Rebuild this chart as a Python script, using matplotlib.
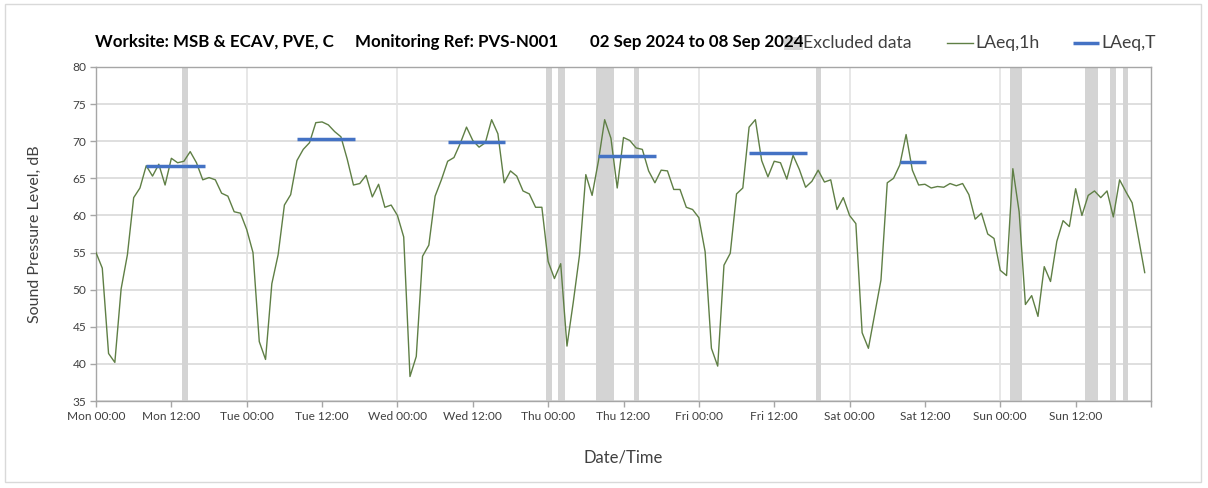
import matplotlib
matplotlib.use("Agg")
import matplotlib.pyplot as plt
from matplotlib.patches import Rectangle
from matplotlib.lines import Line2D
import numpy as np

# ---- data ----
laeq_1h = [
    # Mon
    55.0, 52.9, 41.4, 40.2, 50.1, 54.7, 62.4, 63.7, 66.7, 65.3, 66.9, 64.1,
    67.7, 67.1, 67.3, 68.6, 67.1, 64.8, 65.1, 64.8, 63.0, 62.6, 60.5, 60.3,
    # Tue
    58.1, 55.0, 43.0, 40.6, 50.8, 54.7, 61.4, 62.8, 67.4, 68.9, 69.8, 72.5,
    72.6, 72.2, 71.3, 70.6, 67.6, 64.1, 64.3, 65.4, 62.5, 64.2, 61.1, 61.4,
    # Wed
    60.0, 57.1, 38.3, 41.0, 54.5, 56.0, 62.6, 64.8, 67.3, 67.8, 69.7, 71.9,
    70.1, 69.2, 69.8, 72.9, 71.0, 64.4, 66.0, 65.3, 63.3, 62.9, 61.1, 61.1,
    # Thu
    53.8, 51.5, 53.5, 42.4, 48.3, 54.7, 65.5, 62.7, 67.3, 72.9, 70.4, 63.7,
    70.5, 70.1, 69.1, 68.9, 66.0, 64.4, 66.1, 66.0, 63.5, 63.5, 61.1, 60.8,
    # Fri
    59.7, 55.1, 42.1, 39.7, 53.3, 54.9, 62.9, 63.7, 71.9, 72.9, 67.4, 65.2,
    67.3, 67.1, 64.9, 68.1, 66.2, 63.8, 64.6, 66.1, 64.5, 64.8, 60.8, 62.4,
    # Sat
    60.0, 58.9, 44.2, 42.1, 46.7, 51.3, 64.4, 65.0, 66.8, 70.9, 66.1, 64.1,
    64.2, 63.7, 63.9, 63.8, 64.3, 64.0, 64.3, 62.8, 59.5, 60.3, 57.5, 56.9,
    # Sun
    52.6, 51.9, 66.3, 60.5, 48.0, 49.2, 46.4, 53.1, 51.1, 56.5, 59.3, 58.5,
    63.6, 60.0, 62.7, 63.3, 62.4, 63.3, 59.8, 64.8, 63.2, 61.7, 57.0, 52.3,
]
hours = list(range(len(laeq_1h)))

laeqT_start = [8.0, 32.0, 56.0, 80.0, 104.0, 128.0]
laeqT_end = [17.3, 41.3, 65.2, 89.2, 113.2, 132.2]
laeqT_value = [66.7, 70.3, 69.9, 68.0, 68.4, 67.2]

excl_start = [13.7, 71.6, 73.6, 79.6, 85.6, 114.6, 145.5, 157.5, 161.5, 163.5]
excl_end = [14.6, 72.6, 74.7, 82.5, 86.5, 115.5, 147.4, 159.5, 162.5, 164.4]

tick_hours = list(range(0, 168, 12))
tick_labels = ["Mon 00:00", "Mon 12:00", "Tue 00:00", "Tue 12:00", "Wed 00:00",
               "Wed 12:00", "Thu 00:00", "Thu 12:00", "Fri 00:00", "Fri 12:00",
               "Sat 00:00", "Sat 12:00", "Sun 00:00", "Sun 12:00"]
y_ticks = [35, 40, 45, 50, 55, 60, 65, 70, 75, 80]

title_parts = ["Worksite: MSB & ECAV, PVE, C", "Monitoring Ref: PVS-N001",
               "02 Sep 2024 to 08 Sep 2024"]
legend_labels = ["Excluded data", "LAeq,1h", "LAeq,T"]

# ---- style ----
FONT = ["Lato", "DejaVu Sans"]
plt.rcParams["font.family"] = FONT
GREEN = "#5f7f45"
BLUE = "#4472C4"
GREY_BAR = "#d4d4d4"
GRID = "#d9d9d9"
TXT = "#404040"

W, H = 1208, 488
fig = plt.figure(figsize=(W / 100, H / 100), dpi=100)
ax = fig.add_axes([96 / W, 1 - 401 / H, (1151 - 96) / W, (401 - 67) / H])

# border around whole chart
fig.patches.append(Rectangle((5 / W, 6 / H), (1201 - 5) / W, (484 - 6) / H,
                             transform=fig.transFigure, fill=False,
                             edgecolor="#d9d9d9", linewidth=1))

# excluded data bars
for s, e in zip(excl_start, excl_end):
    ax.axvspan(s, e, color=GREY_BAR, lw=0, zorder=1)

# grid
for y in y_ticks:
    ax.axhline(y, color=GRID, lw=1.2, zorder=0.5)
for d in range(24, 168, 24):
    ax.axvline(d, color="#e3e3e3", lw=1.2, zorder=0.5)

ax.plot(hours, laeq_1h, color=GREEN, lw=1.0, zorder=3)
for s, e, v in zip(laeqT_start, laeqT_end, laeqT_value):
    ax.plot([s, e], [v, v], color=BLUE, lw=2.5, solid_capstyle="butt", zorder=4)

ax.set_xlim(0, 168)
ax.set_ylim(35, 80)
ax.set_yticks(y_ticks)
ax.set_xticks(tick_hours + [168])
ax.set_xticklabels(tick_labels + [""], fontsize=8.6, color=TXT)
ax.set_yticklabels([str(v) for v in y_ticks], fontsize=8.6, color=TXT)
ax.tick_params(axis="both", direction="out", length=4, width=1, color="#a6a6a6", pad=3)
for sp in ax.spines.values():
    sp.set_color("#a6a6a6")
    sp.set_linewidth(1)

ax.set_ylabel("Sound Pressure Level, dB", fontsize=11.5, color=TXT, labelpad=22)
ax.set_xlabel("Date/Time", fontsize=12, color=TXT, labelpad=20)

# title pieces
ty = 1 - 42 / H
for txt, x0 in zip(title_parts, [95, 355, 590]):
    fig.text(x0 / W, ty, txt, fontsize=12.2, fontweight="bold", color="#000000",
             ha="left", va="center", zorder=3)

# manual legend (drawn above title like the reference)
ly = 1 - 43 / H
fig.patches.append(Rectangle((784 / W, ly - 6.5 / H), 19 / W, 13 / H,
                             transform=fig.transFigure, facecolor=GREY_BAR,
                             edgecolor="none", zorder=1))
fig.text(803 / W, ly, legend_labels[0], fontsize=12.7, color=TXT, ha="left", va="center")
fig.lines.append(Line2D([947 / W, 973 / W], [ly, ly], transform=fig.transFigure,
                        color=GREEN, lw=1.0))
fig.text(975 / W, ly, legend_labels[1], fontsize=12.7, color=TXT, ha="left", va="center")
fig.lines.append(Line2D([1073 / W, 1099 / W], [ly, ly], transform=fig.transFigure,
                        color=BLUE, lw=2.5, solid_capstyle="butt"))
fig.text(1101 / W, ly, legend_labels[2], fontsize=12.7, color=TXT, ha="left", va="center")

fig.savefig("out.png", dpi=100)
